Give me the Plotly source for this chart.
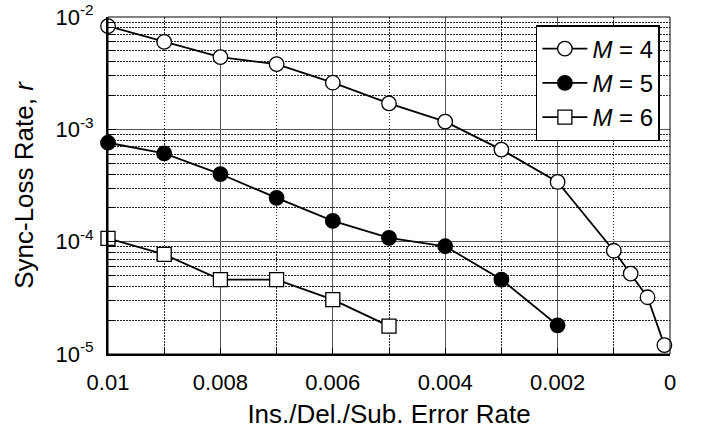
import plotly.graph_objects as go

# ---- data ----
m4_x = [0.010, 0.009, 0.008, 0.007, 0.006, 0.005, 0.004, 0.003, 0.002, 0.001, 0.0007, 0.0004, 0.0001]
m4_y = [8.3e-3, 6.0e-3, 4.4e-3, 3.8e-3, 2.6e-3, 1.7e-3, 1.17e-3, 6.6e-4, 3.4e-4, 8.3e-5, 5.2e-5, 3.2e-5, 1.2e-5]

m5_x = [0.010, 0.009, 0.008, 0.007, 0.006, 0.005, 0.004, 0.003, 0.002]
m5_y = [7.6e-4, 6.1e-4, 4.0e-4, 2.45e-4, 1.53e-4, 1.08e-4, 9.1e-5, 4.6e-5, 1.8e-5]

m6_x = [0.010, 0.009, 0.008, 0.007, 0.006, 0.005]
m6_y = [1.07e-4, 7.7e-5, 4.6e-5, 4.6e-5, 3.05e-5, 1.77e-5]

series_names = ["<i>M</i> = 4", "<i>M</i> = 5", "<i>M</i> = 6"]

x_tick_vals = [0.010, 0.008, 0.006, 0.004, 0.002, 0.0]
x_tick_text = ["0.01", "0.008", "0.006", "0.004", "0.002", "0"]
x_minor_vals = [0.009, 0.007, 0.005, 0.003, 0.001]

y_decades = [-5, -4, -3, -2]
y_tick_vals = [10.0 ** d for d in y_decades]
y_tick_text = ["10<sup>%d</sup>" % d for d in y_decades]
y_minor_vals = [k * 10.0 ** d for d in y_decades[:-1] for k in range(2, 10)]

FONT = "Liberation Sans, Arial, Helvetica, sans-serif"

fig = go.Figure()

styles = [
    dict(symbol="circle", color="white", size=14.5),
    dict(symbol="circle", color="black", size=14.5),
    dict(symbol="square", color="white", size=14),
]
for xs, ys, name, st in zip([m4_x, m5_x, m6_x], [m4_y, m5_y, m6_y], series_names, styles):
    fig.add_trace(go.Scatter(
        x=xs, y=ys, name=name, mode="lines+markers",
        line=dict(color="black", width=1.8),
        marker=dict(symbol=st["symbol"], size=st["size"], color=st["color"],
                    line=dict(color="black", width=1.3)),
        cliponaxis=False,
    ))

fig.update_layout(
    width=704, height=432,
    margin=dict(l=108, r=34, t=17, b=78, autoexpand=False),
    paper_bgcolor="white", plot_bgcolor="white",
    font=dict(family=FONT, color="black", size=22),
    showlegend=True,
    legend=dict(
        x=0.982, y=0.976, xanchor="right", yanchor="top",
        bgcolor="white", bordercolor="black", borderwidth=1.5,
        font=dict(family=FONT, size=24, color="black"),
        tracegroupgap=0, itemwidth=45,
    ),
)

fig.update_xaxes(
    range=[0.010, 0.0], automargin=False,
    tickmode="array", tickvals=x_tick_vals, ticktext=x_tick_text,
    ticks="inside", ticklen=6, tickwidth=1.2, tickcolor="black",
    tickfont=dict(size=22, family=FONT),
    ticklabelstandoff=8,
    showline=True, linecolor="black", linewidth=2,
    showgrid=True, gridcolor="#555555", gridwidth=1,
    zeroline=False,
    minor=dict(tickmode="array", tickvals=x_minor_vals, ticks="inside", ticklen=6,
               tickcolor="black", showgrid=True, gridcolor="#222222",
               griddash="1.5px,1.5px", gridwidth=1),
    title=dict(text="Ins./Del./Sub. Error Rate", font=dict(size=26, family=FONT), standoff=10),
)

fig.update_yaxes(
    type="log", range=[-5, -2], automargin=False,
    tickmode="array", tickvals=y_tick_vals, ticktext=y_tick_text,
    ticks="inside", ticklen=8, tickwidth=1.2, tickcolor="black",
    tickfont=dict(size=22, family=FONT),
    ticklabelstandoff=8,
    showline=True, linecolor="black", linewidth=2,
    showgrid=True, gridcolor="#555555", gridwidth=1,
    zeroline=False,
    minor=dict(tickmode="array", tickvals=y_minor_vals, ticks="inside", ticklen=6,
               tickcolor="black", showgrid=True, gridcolor="#222222",
               griddash="1.5px,1.5px", gridwidth=1),
    title=dict(text="Sync-Loss Rate, <i>r</i>", font=dict(size=26, family=FONT), standoff=14),
)

fig.add_shape(type="rect", xref="x domain", yref="y domain", x0=0, x1=1, y0=0, y1=1,
              line=dict(color="black", width=1), layer="above")

fig.write_html(
    "out.html",
    config={"displayModeBar": False},
    post_script="document.body.style.margin='0';document.body.style.overflow='hidden';",
)
